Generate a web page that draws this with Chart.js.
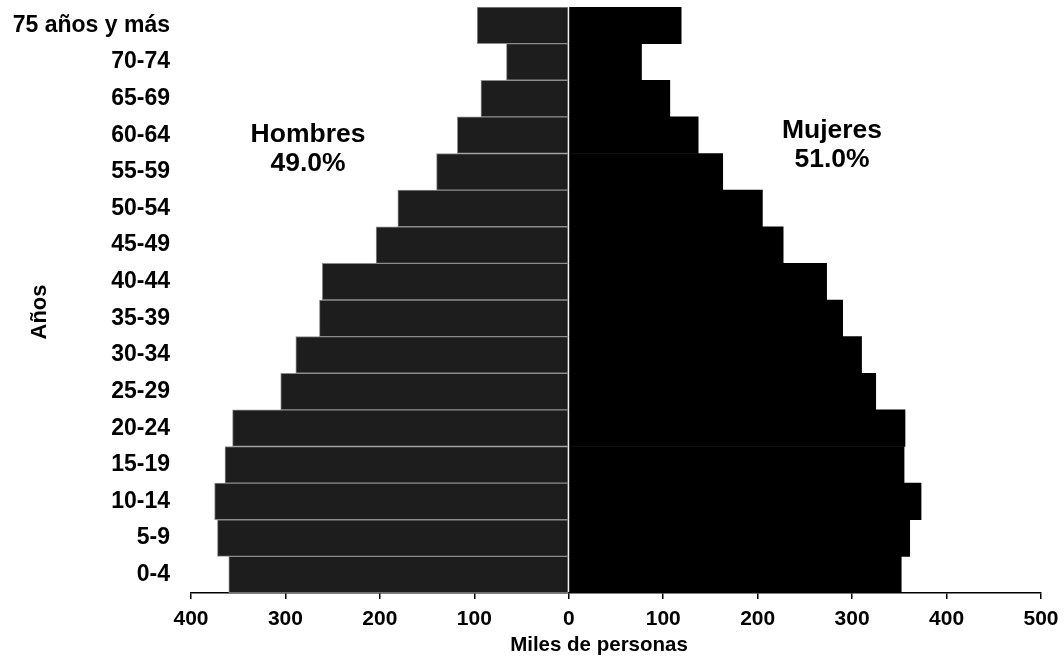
<!DOCTYPE html>
<html lang="es">
<head>
    <meta charset="UTF-8">
    <title>Pirámide de población</title>
    <script src="https://cdn.jsdelivr.net/npm/chart.js"></script>
    <style>
        body, html {
            margin: 0;
            background: #fff;
        }
        .chart-container {
            width: 1064px;
            height: 656px;
        }
    </style>
</head>
<body>
    <div class="chart-container">
        <canvas id="piramide"></canvas>
    </div>
    <script>
        // grupos de edad, de arriba hacia abajo
        const grupos = ['75 años y más', '70-74', '65-69', '60-64', '55-59', '50-54', '45-49', '40-44',
                        '35-39', '30-34', '25-29', '20-24', '15-19', '10-14', '5-9', '0-4'];
        // miles de personas
        const hombres = [97, 66, 93, 118, 140, 181, 204, 261, 264, 289, 305, 356, 364, 375, 372, 360];
        const mujeres = [119, 77, 107, 137, 163, 205, 227, 273, 290, 310, 325, 356, 355, 373, 361, 352];
        const ticksX = [-400, -300, -200, -100, 0, 100, 200, 300, 400, 500];

        const fuente = '"Liberation Sans", Arial, Helvetica, sans-serif';

        const textos = {
            id: 'textos',
            afterDraw(chart) {
                const c = chart.ctx;
                c.save();
                c.fillStyle = '#000';
                c.textAlign = 'center';
                c.textBaseline = 'middle';
                c.font = 'bold 26.5px ' + fuente;
                c.fillText('Hombres', 308, 135);
                c.fillText('49.0%', 308, 164);
                c.fillText('Mujeres', 832, 131);
                c.fillText('51.0%', 832, 160);
                c.font = 'bold 20.5px ' + fuente;
                c.fillText('Miles de personas', 599, 645);
                // título del eje vertical
                c.translate(40, 312);
                c.rotate(-Math.PI / 2);
                c.font = 'bold 22px ' + fuente;
                c.fillText('Años', 0, 0);
                c.restore();
            }
        };

        const ctx = document.getElementById('piramide').getContext('2d');
        new Chart(ctx, {
            type: 'bar',
            data: {
                labels: grupos,
                datasets: [{
                    label: 'Hombres',
                    data: hombres.map(v => -v),
                    backgroundColor: '#1d1d1d',
                    borderColor: '#8c8c8c',
                    borderWidth: 1,
                    borderSkipped: false,
                    barPercentage: 1,
                    categoryPercentage: 1
                }, {
                    label: 'Mujeres',
                    data: mujeres,
                    backgroundColor: '#000',
                    borderWidth: 0,
                    barPercentage: 1,
                    categoryPercentage: 1
                }]
            },
            options: {
                indexAxis: 'y',
                responsive: true,
                maintainAspectRatio: false,
                animation: false,
                layout: { padding: { top: 7, right: 23, left: 0, bottom: 0 } },
                plugins: {
                    legend: { display: false },
                    tooltip: { enabled: false }
                },
                scales: {
                    x: {
                        stacked: true,
                        min: -400,
                        max: 500,
                        afterBuildTicks: scale => { scale.ticks = ticksX.map(v => ({ value: v })); },
                        afterFit: scale => {
                            scale.height = 63;
                            scale.paddingLeft = 0;
                            scale.paddingRight = 0;
                        },
                        border: { display: true, color: '#000', width: 1.5 },
                        grid: { drawOnChartArea: false, drawTicks: true, tickLength: 6, color: '#000', lineWidth: 1.5 },
                        ticks: {
                            color: '#000',
                            padding: 8,
                            maxRotation: 0,
                            font: { family: fuente, size: 21, weight: 'bold' },
                            callback: v => Math.abs(v)
                        }
                    },
                    y: {
                        stacked: true,
                        afterFit: scale => {
                            scale.width = 191;
                            scale.paddingTop = 0;
                            scale.paddingBottom = 0;
                        },
                        border: { display: false },
                        grid: { display: false, drawTicks: false },
                        ticks: {
                            color: '#000',
                            padding: 21,
                            autoSkip: false,
                            font: { family: fuente, size: 23, weight: 'bold' }
                        }
                    }
                }
            },
            plugins: [textos]
        });
    </script>
</body>
</html>
